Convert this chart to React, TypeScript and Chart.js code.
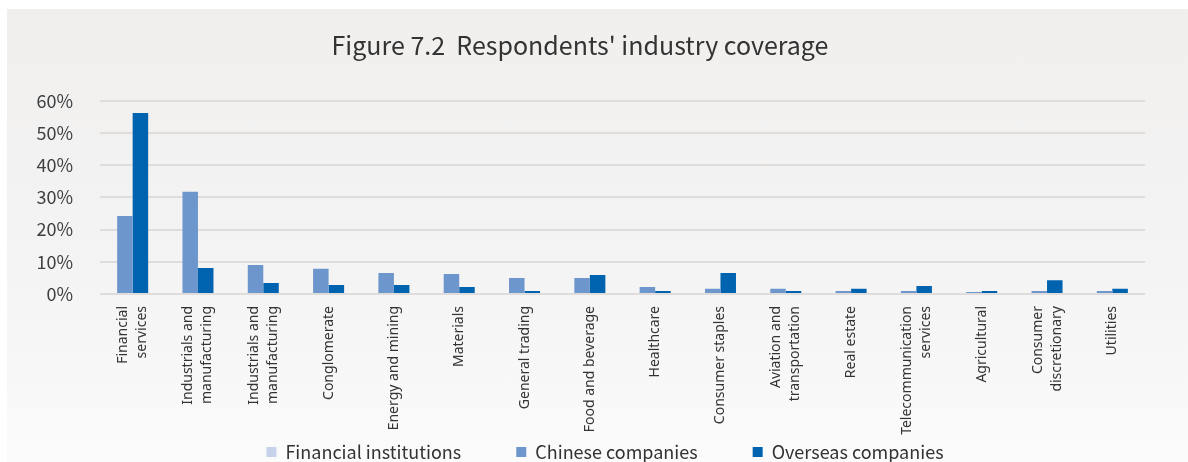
import React, { useEffect, useRef } from "react";
import { Chart, registerables } from "chart.js";

Chart.register(...registerables);

const chartTitle = "Figure 7.2  Respondents' industry coverage";

const categories: (string | string[])[] = [
  ["Financial", "services"],
  ["Industrials and", "manufacturing"],
  ["Industrials and", "manufacturing"],
  "Conglomerate",
  "Energy and mining",
  "Materials",
  "General trading",
  "Food and beverage",
  "Healthcare",
  "Consumer staples",
  ["Aviation and", "transportation"],
  "Real estate",
  ["Telecommunication", "services"],
  "Agricultural",
  ["Consumer", "discretionary"],
  "Utilities",
];

const seriesNames = ["Financial institutions", "Chinese companies", "Overseas companies"];

const financialInstitutions: (number | null)[] = [
  null, null, null, null, null, null, null, null,
  null, null, null, null, null, null, null, null,
];
const chineseCompanies = [24.2, 31.7, 9.0, 7.8, 6.5, 6.2, 5.0, 5.0, 2.2, 1.6, 1.6, 0.9, 0.9, 0.6, 0.9, 0.9];
const overseasCompanies = [56.2, 8.1, 3.4, 2.8, 2.8, 2.2, 0.9, 5.9, 0.9, 6.5, 0.9, 1.6, 2.5, 0.9, 4.3, 1.6];

const yMin = 0;
const yMax = 60;
const yStep = 10;

const CANVAS_W = 1181;
const CANVAS_H = 462;
const LINE_H = 19;

const noClip = (scale: any) => {
  scale._computeLabelArea = () => undefined;
};

export default function App() {
  const ref = useRef<HTMLCanvasElement | null>(null);

  useEffect(() => {
    if (!ref.current) return;
    const chart = new Chart(ref.current, {
      type: "bar",
      data: {
        labels: categories as any,
        datasets: [
          {
            label: seriesNames[0],
            data: financialInstitutions,
            backgroundColor: "#c6d2eb",
            skipNull: true,
          } as any,
          {
            label: seriesNames[1],
            data: chineseCompanies,
            backgroundColor: "#6d96cd",
            skipNull: true,
          },
          {
            label: seriesNames[2],
            data: overseasCompanies,
            backgroundColor: "#0063b0",
            skipNull: true,
          },
        ],
      },
      options: {
        animation: false,
        responsive: false,
        maintainAspectRatio: false,
        layout: { padding: { left: 58, right: 43, top: 91.7, bottom: 0 } },
        datasets: {
          bar: { categoryPercentage: 0.475, barPercentage: 1 },
        },
        plugins: {
          title: { display: false },
          tooltip: { enabled: false },
          legend: {
            position: "bottom",
            labels: {
              boxWidth: 10,
              boxHeight: 10,
              padding: 55,
              color: "#333333",
              font: { family: "'Noto Sans CJK SC', 'Noto Sans', sans-serif", size: 18 },
            },
          },
        },
        scales: {
          x: {
            grid: { display: false, drawTicks: false },
            border: { display: false },
            afterFit: (scale: any) => {
              scale.height = 94;
              noClip(scale);
            },
            ticks: {
              autoSkip: false,
              maxRotation: 90,
              minRotation: 90,
              padding: 12,
              labelOffset: -LINE_H / 2,
              color: "#333333",
              font: { family: "'Noto Sans', sans-serif", size: 14, lineHeight: LINE_H / 14 },
              showLabelBackdrop: (c: any) => !Array.isArray(categories[c.index]),
              backdropColor: "rgba(0,0,0,0)",
              backdropPadding: 0,
            } as any,
          },
          y: {
            min: yMin,
            max: yMax,
            afterFit: (scale: any) => {
              scale.width = 35;
              noClip(scale);
            },
            grid: { color: "#dfdcdc", lineWidth: 2, drawTicks: false },
            border: { display: false },
            ticks: {
              stepSize: yStep,
              padding: 27,
              color: "#404040",
              font: { family: "'Noto Sans CJK SC', 'Noto Sans', sans-serif", size: 18 },
              callback: (v: any) => `${v}%`,
            },
          },
        },
      },
    });
    return () => chart.destroy();
  }, []);

  return (
    <div
      style={{
        position: "absolute",
        left: 0,
        top: 0,
        width: 1188,
        height: 462,
        background: "#ffffff",
        overflow: "hidden",
      }}
    >
      <div
        style={{
          position: "absolute",
          left: 7,
          top: 9,
          width: CANVAS_W,
          height: 453,
          overflow: "hidden",
          background: "linear-gradient(#f0efee, #f5f4f4 60%, #fbfbfb)",
        }}
      >
        <canvas
          ref={ref}
          width={CANVAS_W}
          height={CANVAS_H}
          style={{ display: "block", width: CANVAS_W, height: CANVAS_H }}
        />
      </div>
      <div
        style={{
          position: "absolute",
          left: 0,
          top: 32,
          width: 1160,
          textAlign: "center",
          whiteSpace: "pre",
          fontFamily: "'Noto Sans CJK SC', 'Noto Sans', sans-serif",
          fontSize: 25,
          lineHeight: "25px",
          color: "#333333",
        }}
      >
        {chartTitle}
      </div>
    </div>
  );
}
